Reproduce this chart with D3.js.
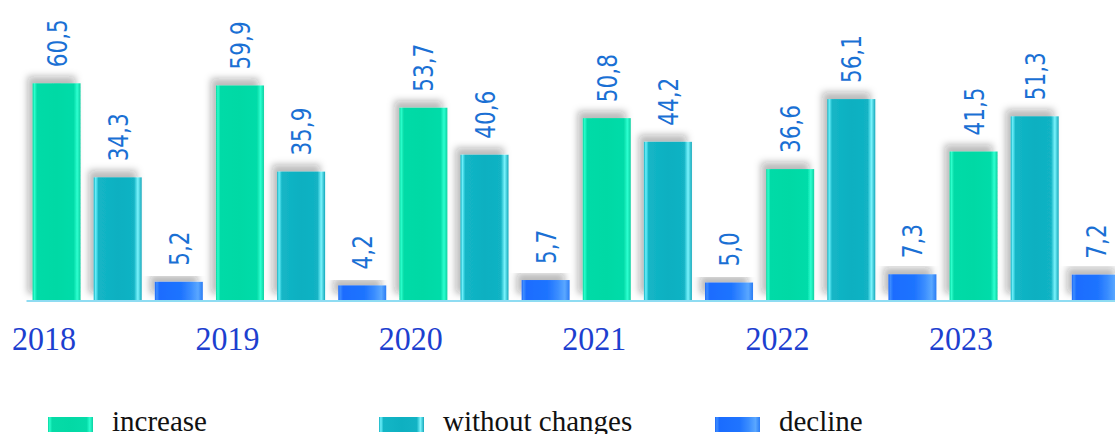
<!DOCTYPE html>
<html>
<head>
<meta charset="utf-8">
<script src="https://cdn.jsdelivr.net/npm/d3@7"></script>
<style>
  html, body { margin: 0; padding: 0; background: #fff; }
  svg { display: block; }
</style>
</head>
<body>
<svg id="chart" width="1115" height="434"></svg>
<script>
// Share of respondents by assessment, per year
const years = ["2018", "2019", "2020", "2021", "2022", "2023"];
const seriesNames = ["increase", "without changes", "decline"];
const increase = [60.5, 59.9, 53.7, 50.8, 36.6, 41.5];
const withoutChanges = [34.3, 35.9, 40.6, 44.2, 56.1, 51.3];
const decline = [5.2, 4.2, 5.7, 5.0, 7.3, 7.2];

const seriesValues = [increase, withoutChanges, decline];
const rows = years.flatMap((yr, i) =>
  seriesNames.map((s, k) => ({ year: yr, series: s, key: k, value: seriesValues[k][i] })));

const svg = d3.select("#chart");
const baseY = 300.5;

const x0 = d3.scaleBand().domain(years).range([26, 26 + 6 * 183.4]).padding(0);
const x1 = d3.scaleBand().domain(seriesNames).range([0, x0.bandwidth()])
  .paddingInner(0.215).paddingOuter(0.1075);
const y = d3.scaleLinear().domain([0, 60]).range([baseY, baseY - 60 * 3.59]);

// Gradients giving the bars a rounded, glossy look
const defs = svg.append("defs");
const gradStops = [
  [ // increase
    [0, "#08d49f"], [0.04, "#2bffcc"], [0.09, "#06dba7"], [0.5, "#03d9a5"],
    [0.86, "#05dca9"], [0.93, "#2dffd0"], [1, "#0bd0a0"]
  ],
  [ // without changes
    [0, "#10aebf"], [0.04, "#6cf0fb"], [0.1, "#13b6c6"], [0.5, "#0eb0c1"],
    [0.84, "#12b3c4"], [0.92, "#7af3fc"], [1, "#14a8ba"]
  ],
  [ // decline
    [0, "#1a66f6"], [0.04, "#3d8cff"], [0.1, "#1a6cff"], [0.55, "#1f74ff"],
    [0.75, "#3a8dff"], [0.9, "#5aa7ff"], [1, "#2a7cf5"]
  ]
];
gradStops.forEach((stops, k) => {
  const g = defs.append("linearGradient").attr("id", "grad" + k)
    .attr("x1", "0%").attr("x2", "100%").attr("y1", "0%").attr("y2", "0%");
  stops.forEach(([o, c]) => g.append("stop").attr("offset", o).attr("stop-color", c));
});

const shadow = defs.append("filter").attr("id", "shadow")
  .attr("x", "-30%").attr("y", "-30%").attr("width", "160%").attr("height", "160%");
shadow.append("feDropShadow").attr("dx", -5).attr("dy", -7)
  .attr("stdDeviation", 3.6).attr("flood-color", "#222").attr("flood-opacity", 0.3);

// Bars
svg.append("g").selectAll("rect").data(rows).join("rect")
  .attr("x", d => x0(d.year) + x1(d.series))
  .attr("y", d => y(d.value))
  .attr("width", x1.bandwidth())
  .attr("height", d => baseY - y(d.value))
  .attr("fill", d => `url(#grad${d.key})`)
  .attr("filter", "url(#shadow)");

// Baseline axis with year labels
const axis = svg.append("g").attr("transform", `translate(0,${baseY})`)
  .call(d3.axisBottom(x0).tickSize(0).tickPadding(0));
axis.select(".domain").attr("stroke", "#8fdcf2").attr("stroke-width", 2.2);
axis.selectAll("text")
  .attr("font-family", "'Liberation Serif', 'Times New Roman', serif")
  .attr("font-size", 32)
  .attr("fill", "#1d3fcf")
  .attr("text-anchor", "middle")
  .attr("dy", null)
  .attr("transform", `translate(${-x0.bandwidth() / 2 + 18},49) scale(1,1.07)`);

// Value labels, rotated and slightly condensed
const fmt = v => d3.format(".1f")(v).replace(".", ",");
svg.append("g").selectAll("text").data(rows).join("text")
  .attr("transform", d => `translate(${x0(d.year) + x1(d.series) + x1.bandwidth() / 2 + 10},${y(d.value) - 16}) rotate(-90) scale(0.8,1)`)
  .attr("font-family", "'DejaVu Sans', sans-serif")
  .attr("font-size", 27)
  .attr("fill", "#1a70d4")
  .attr("text-anchor", "start")
  .text(d => fmt(d.value));

// Legend
const legendX = [48, 379, 715];
const legend = svg.append("g").selectAll("g").data(seriesNames).join("g")
  .attr("transform", (d, k) => `translate(${legendX[k]},417)`);
legend.append("rect").attr("width", 45).attr("height", 15)
  .attr("fill", (d, k) => `url(#grad${k})`);
legend.append("text").attr("x", 64).attr("y", 14)
  .attr("font-family", "'Liberation Serif', 'Times New Roman', serif")
  .attr("font-size", 29).attr("fill", "#111")
  .text(d => d);
</script>
</body>
</html>
